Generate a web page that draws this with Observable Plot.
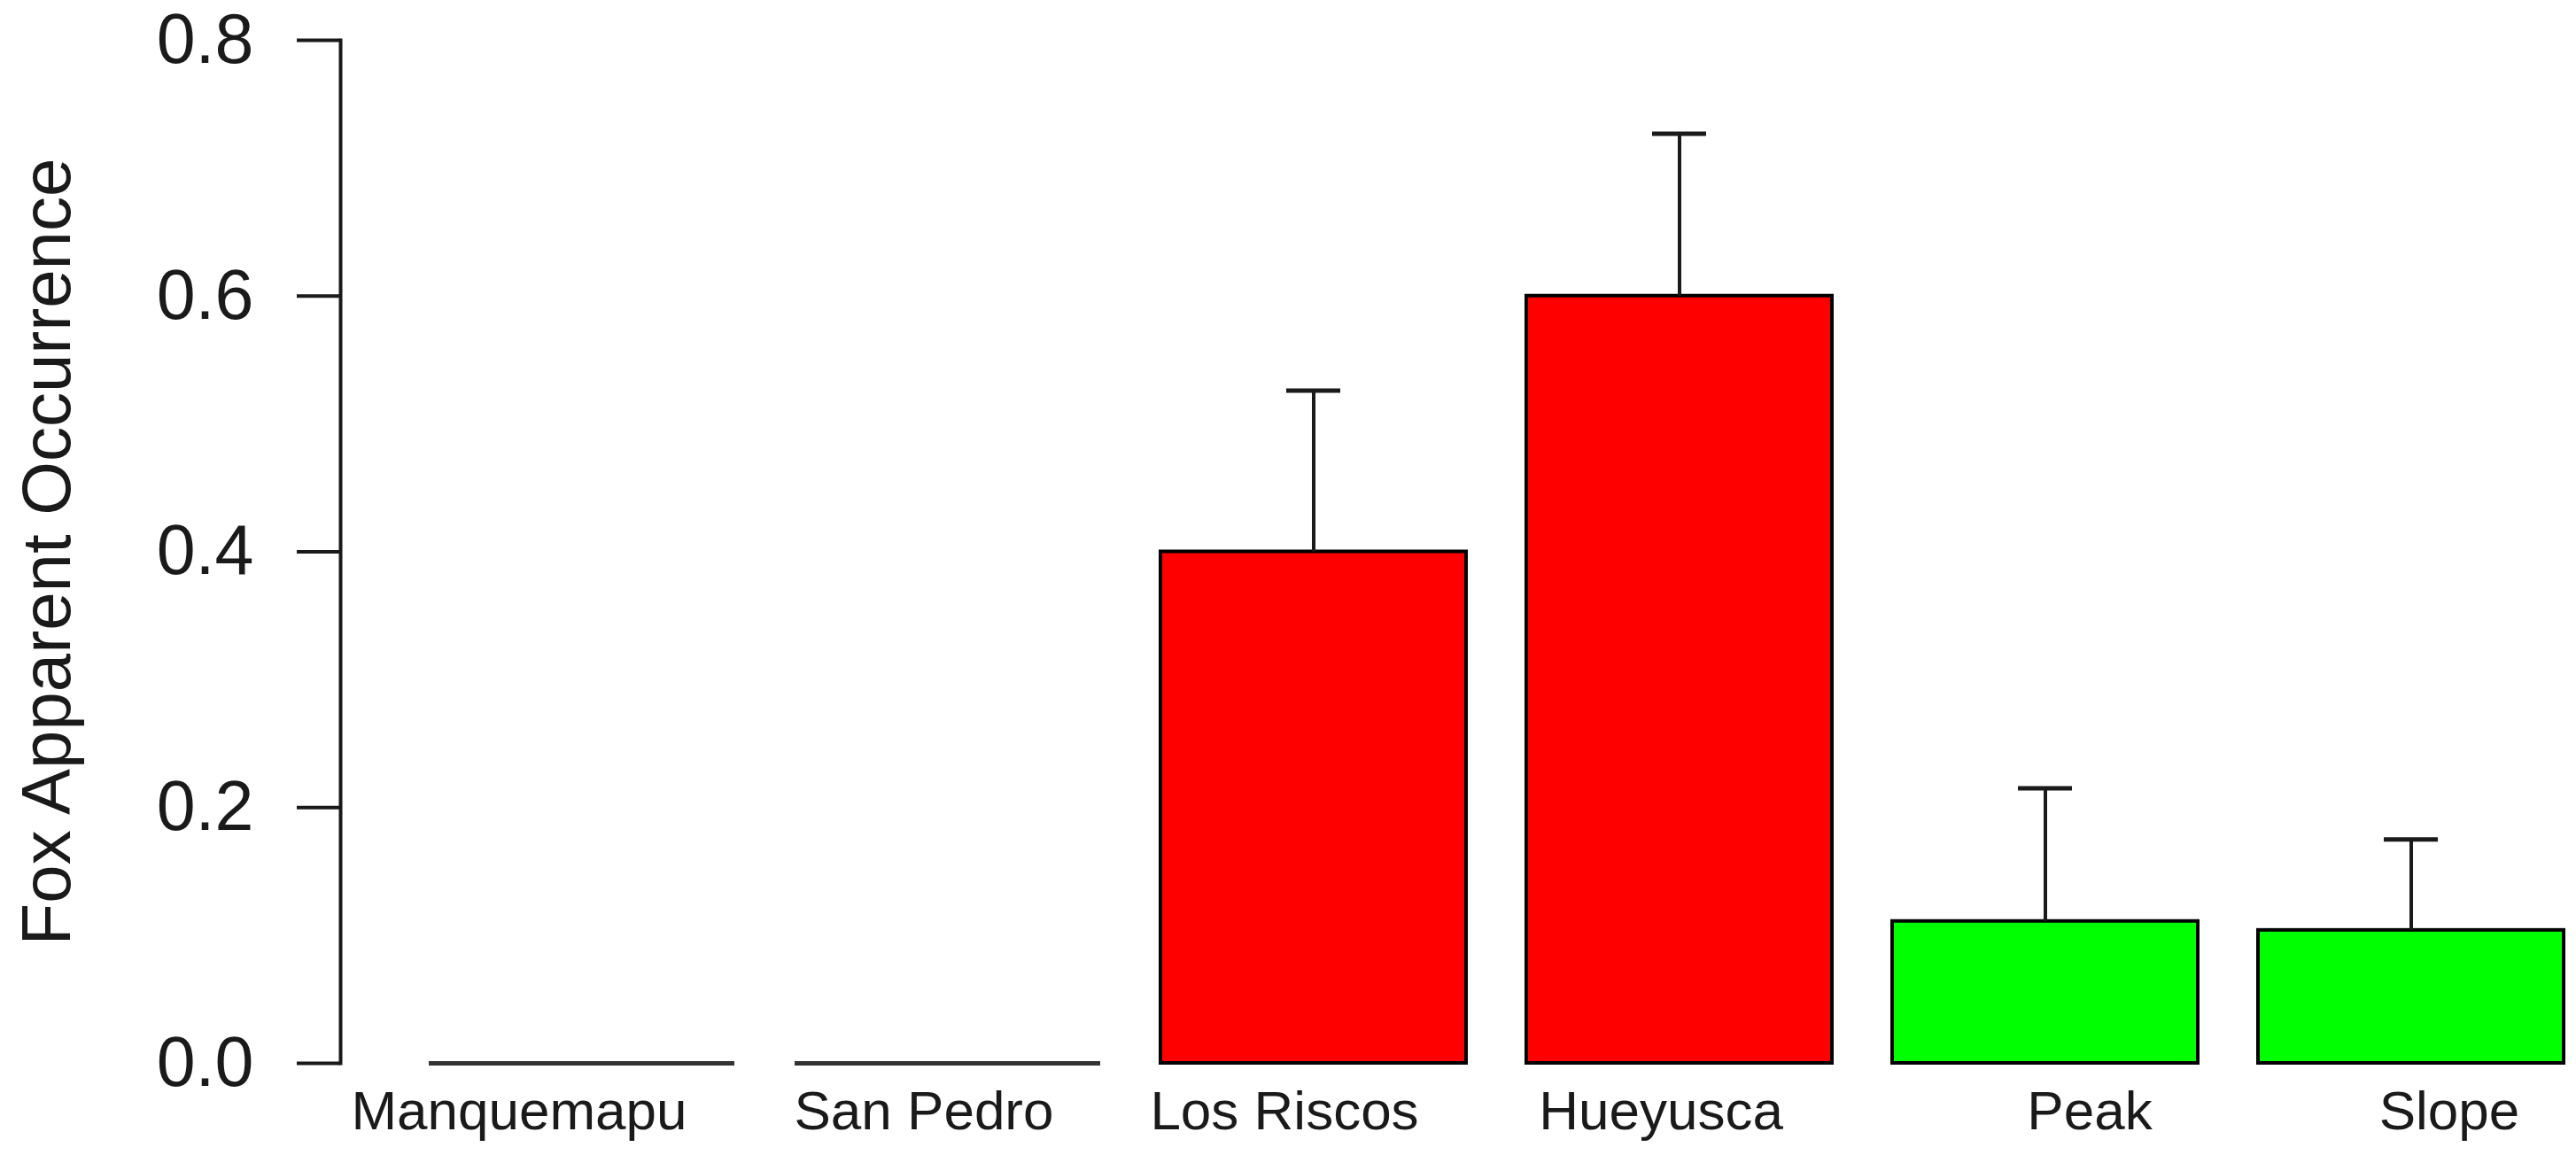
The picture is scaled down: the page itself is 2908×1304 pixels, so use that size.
<!DOCTYPE html>
<html>
<head>
<meta charset="utf-8">
<script src="https://cdn.jsdelivr.net/npm/d3@7"></script>
<script src="https://cdn.jsdelivr.net/npm/@observablehq/plot@0.6"></script>
<style>
  html, body { margin: 0; padding: 0; background: #ffffff; }
  #chart svg { display: block; }
</style>
</head>
<body>
<div id="chart"></div>
<script>
// ---- data ----
const sites = ["Manquemapu", "San Pedro", "Los Riscos", "Hueyusca", "Peak", "Slope"];
const occurrence = [0, 0, 0.40, 0.60, 0.111, 0.104];
const upperError = [0, 0, 0.526, 0.727, 0.215, 0.175];
const yTicks = [0, 0.2, 0.4, 0.6, 0.8];
const yTitle = "Fox Apparent Occurrence";

// ---- styles / layout (kept separate from data) ----
const barFill = ["#ffffff", "#ffffff", "#ff0000", "#ff0000", "#00ff00", "#00ff00"];
const labelShift = [-71, -27, -33, -21, 50, 43];
const font = "'Liberation Sans', Arial, Helvetica, sans-serif";
const ink = "#1a1a1a";

const rows = sites.map((s, i) => ({site: s, value: occurrence[i], upper: upperError[i]}));
const nonzero = rows.filter(d => d.value > 0);
const zero = rows.filter(d => d.value === 0);
const withErr = rows.filter(d => d.upper > d.value);

const labelMarks = rows.map((d, i) => Plot.text([d], {
  x: "site", text: "site", frameAnchor: "bottom", textAnchor: "middle",
  lineAnchor: "bottom", dy: 74, dx: labelShift[i], fontSize: 62, fill: ink
}));

const chart = Plot.plot({
  width: 2908,
  height: 1304,
  marginLeft: 384,
  marginRight: 12,
  marginTop: 45,
  marginBottom: 104,
  style: {fontFamily: font, background: "#ffffff", color: ink},
  x: {type: "band", domain: sites, range: [482, 2896], paddingInner: 0.165, paddingOuter: 0, axis: null},
  y: {domain: [0, 0.8], axis: null},
  color: {domain: sites, range: barFill},
  marks: [
    Plot.frame({anchor: "left", stroke: ink, strokeWidth: 4}),
    Plot.axisY({
      ticks: yTicks, tickFormat: d3.format(".1f"), tickSize: 49, tickPadding: 49,
      fontSize: 79, strokeWidth: 4, stroke: ink, fill: ink, label: null
    }),
    Plot.barY(nonzero, {x: "site", y: "value", fill: "site", stroke: "#000000", strokeWidth: 4}),
    Plot.tickY(zero, {x: "site", y: "value", stroke: "#333333", strokeWidth: 5}),
    Plot.ruleX(withErr, {x: "site", y1: "value", y2: "upper", stroke: ink, strokeWidth: 4}),
    Plot.tickY(withErr, {x: "site", y: "upper", stroke: ink, strokeWidth: 5, insetLeft: 142, insetRight: 142}),
    Plot.text([yTitle], {
      text: d => d, frameAnchor: "left", rotate: -90, textAnchor: "middle",
      lineAnchor: "bottom", dx: -306, fontSize: 78, fill: ink
    }),
    ...labelMarks
  ]
});

document.getElementById("chart").appendChild(chart);
</script>
</body>
</html>
